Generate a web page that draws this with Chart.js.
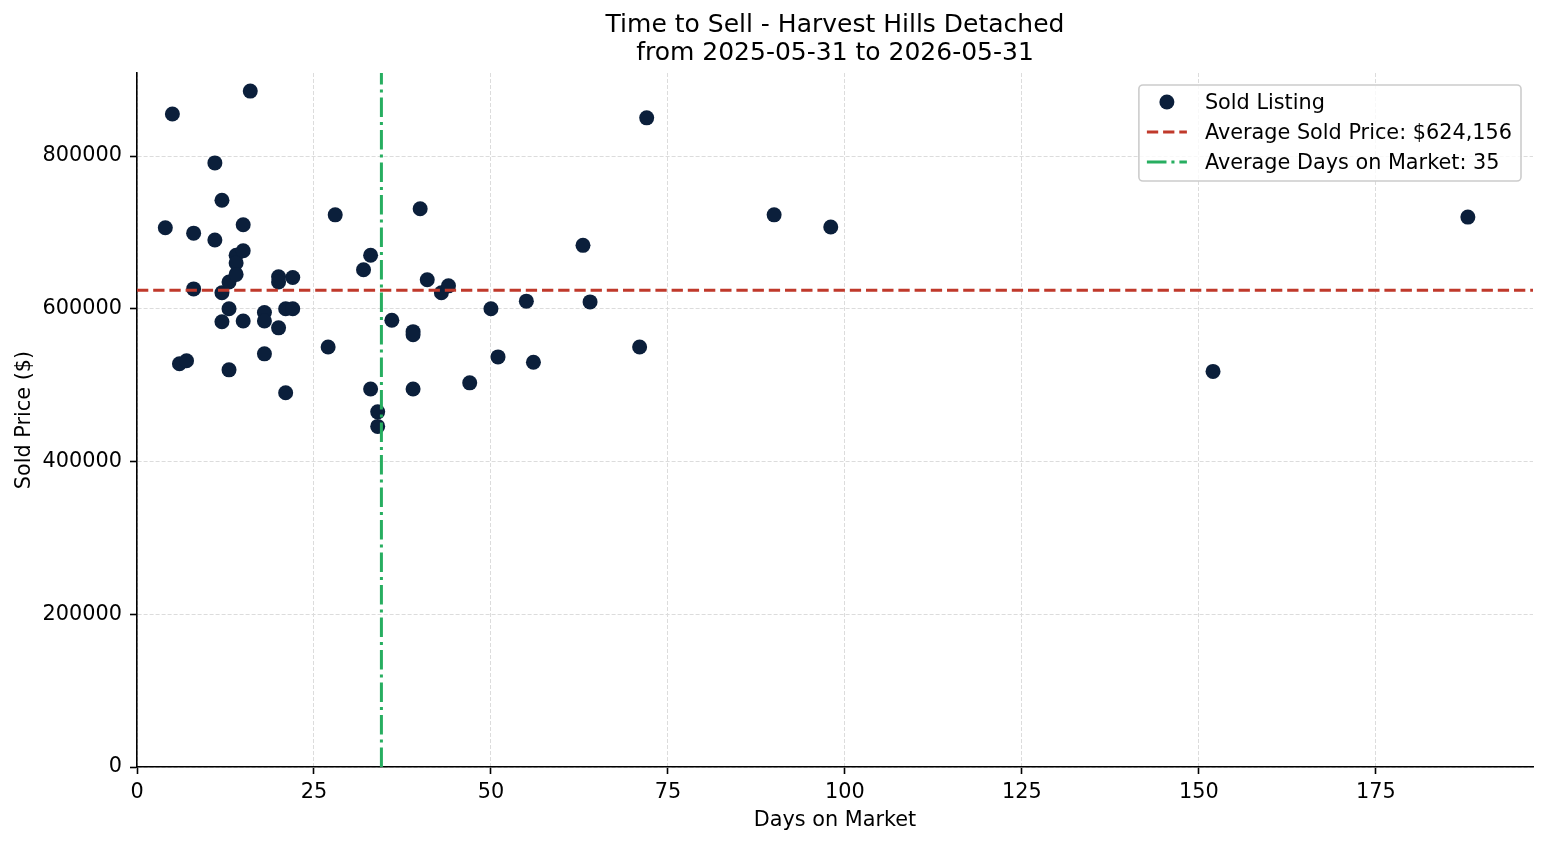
<!DOCTYPE html>
<html>
<head>
<meta charset="utf-8">
<script src="https://cdn.jsdelivr.net/npm/chart.js@4/dist/chart.umd.min.js"></script>
<style>
  body { margin: 0; background: #fff; }
  #wrap { width: 1547px; height: 845px; }
</style>
</head>
<body>
<div id="wrap"><canvas id="timeToSell" width="1547" height="845"></canvas></div>
<script>
// sold listings
var daysOnMarket = [4, 5, 6, 7, 8, 8, 11, 11, 12, 12, 12, 13, 13, 13, 14, 14, 14, 15, 15, 15, 16,
  18, 18, 18, 20, 20, 20, 21, 21, 22, 22, 27, 28, 32, 33, 33, 34, 34, 36, 39, 39, 39,
  40, 41, 43, 44, 47, 50, 51, 55, 56, 63, 64, 71, 72, 90, 98, 152, 188];
var soldPrices = [706000, 855000, 528000, 532000, 699000, 626000, 791000, 690000, 742000, 621000, 583000,
  520000, 600000, 635000, 670000, 660000, 645000, 710000, 676000, 584000, 885000,
  595000, 584000, 541000, 642000, 635000, 575000, 600000, 490000, 641000, 600000,
  550000, 723000, 651000, 670000, 495000, 465000, 446000, 585000, 570000, 566000, 495000,
  731000, 638000, 621000, 630000, 503000, 600000, 537000, 610000, 530000,
  683000, 609000, 550000, 850000, 723000, 707000, 518000, 720000];

var avgSoldPrice = 624156;
var xMax = 197.2;
var yMax = 908700;
var xTicks = [0, 25, 50, 75, 100, 125, 150, 175];
var yTicks = [0, 200000, 400000, 600000, 800000];

var avgDays = daysOnMarket.reduce(function (a, b) { return a + b; }, 0) / daysOnMarket.length;

var points = [];
for (var i = 0; i < daysOnMarket.length; i++) {
  points.push({ x: daysOnMarket[i], y: soldPrices[i] });
}

var navy = '#0b1f3b';
var red = '#c0392b';
var green = '#27ae60';
var priceDash = [11.3, 4.9];
var daysDash = [19.6, 4.9, 3.1, 4.9];
var fontSize = 20.8;

Chart.defaults.font.family = "'DejaVu Sans', sans-serif";
Chart.defaults.font.size = fontSize;
Chart.defaults.color = '#000';

var legendItems = [
  { text: 'Sold Listing', kind: 'dot' },
  { text: 'Average Sold Price: $' + avgSoldPrice.toLocaleString('en-US'), kind: 'line', color: red, dash: priceDash },
  { text: 'Average Days on Market: ' + Math.round(avgDays), kind: 'line', color: green, dash: daysDash }
];

// matplotlib style legend in the upper right corner of the plot
var cornerLegend = {
  id: 'cornerLegend',
  afterDraw: function (chart) {
    var ctx = chart.ctx;
    var area = chart.chartArea;
    ctx.save();
    ctx.font = fontSize + "px 'DejaVu Sans', sans-serif";
    var maxW = 0;
    legendItems.forEach(function (it) { maxW = Math.max(maxW, ctx.measureText(it.text).width); });
    var w = 66 + maxW + 9;
    var h = 96;
    var x0 = area.right - 12 - w;
    var y0 = area.top + 12;

    ctx.beginPath();
    ctx.roundRect(x0, y0, w, h, 4);
    ctx.fillStyle = 'rgba(255,255,255,0.8)';
    ctx.fill();
    ctx.lineWidth = 1.6;
    ctx.strokeStyle = '#cccccc';
    ctx.stroke();

    legendItems.forEach(function (it, k) {
      var cy = y0 + 17 + k * 30;
      if (it.kind === 'dot') {
        ctx.beginPath();
        ctx.arc(x0 + 28, cy, 7.5, 0, Math.PI * 2);
        ctx.fillStyle = navy;
        ctx.fill();
      } else {
        ctx.beginPath();
        ctx.setLineDash(it.dash);
        ctx.lineWidth = 3;
        ctx.strokeStyle = it.color;
        ctx.moveTo(x0 + 8, cy);
        ctx.lineTo(x0 + 48, cy);
        ctx.stroke();
        ctx.setLineDash([]);
      }
      ctx.fillStyle = '#000';
      ctx.textBaseline = 'middle';
      ctx.textAlign = 'left';
      ctx.fillText(it.text, x0 + 66, cy + 1.5);
    });
    ctx.restore();
  }
};

new Chart(document.getElementById('timeToSell'), {
  type: 'scatter',
  data: {
    datasets: [
      {
        label: 'Sold Listing',
        data: points,
        backgroundColor: navy,
        borderWidth: 0,
        pointRadius: 7.5,
        pointHoverRadius: 7.5,
        order: 3
      },
      {
        label: 'Average Sold Price',
        type: 'line',
        data: [{ x: 0, y: avgSoldPrice }, { x: xMax, y: avgSoldPrice }],
        borderColor: red,
        borderWidth: 3,
        borderDash: priceDash,
        pointRadius: 0,
        fill: false,
        order: 2
      },
      {
        label: 'Average Days on Market',
        type: 'line',
        data: [{ x: avgDays, y: 0 }, { x: avgDays, y: yMax }],
        borderColor: green,
        borderWidth: 3,
        borderDash: daysDash,
        pointRadius: 0,
        fill: false,
        order: 1
      }
    ]
  },
  options: {
    responsive: false,
    animation: false,
    devicePixelRatio: 1,
    layout: { padding: { left: 0, right: 14, top: 0, bottom: 0 } },
    plugins: {
      legend: { display: false },
      tooltip: { enabled: false },
      title: {
        display: true,
        fullSize: false,
        text: ['Time to Sell - Harvest Hills Detached', 'from 2025-05-31 to 2026-05-31'],
        font: { size: 25, weight: 'normal', lineHeight: 1.12 },
        color: '#000',
        padding: { top: 11.5, bottom: 5.5 }
      }
    },
    scales: {
      x: {
        type: 'linear',
        min: 0,
        max: xMax,
        afterFit: function (scale) { scale.height = 78; },
        afterBuildTicks: function (scale) {
          scale.ticks = xTicks.map(function (v) { return { value: v }; });
        },
        ticks: { padding: 6, color: '#000', font: { size: fontSize } },
        grid: { color: '#dcdcdc', lineWidth: 1, tickLength: 7, tickColor: '#000', tickWidth: 1.6 },
        border: { display: true, color: '#000', width: 1.6, dash: [4, 2] },
        title: { display: true, text: 'Days on Market', font: { size: fontSize }, color: '#000', padding: { top: 0, bottom: 11.5 } }
      },
      y: {
        type: 'linear',
        min: 0,
        max: yMax,
        afterFit: function (scale) { scale.width = 137; },
        afterBuildTicks: function (scale) {
          scale.ticks = yTicks.map(function (v) { return { value: v }; });
        },
        ticks: {
          padding: 8,
          color: '#000',
          font: { size: fontSize },
          callback: function (v) { return String(v); }
        },
        grid: { color: '#dcdcdc', lineWidth: 1, tickLength: 7, tickColor: '#000', tickWidth: 1.6 },
        border: { display: true, color: '#000', width: 1.6, dash: [4, 2] },
        title: { display: true, text: 'Sold Price ($)', font: { size: fontSize }, color: '#000', padding: { top: 12.5, bottom: 0 } }
      }
    }
  },
  plugins: [cornerLegend]
});
</script>
</body>
</html>
